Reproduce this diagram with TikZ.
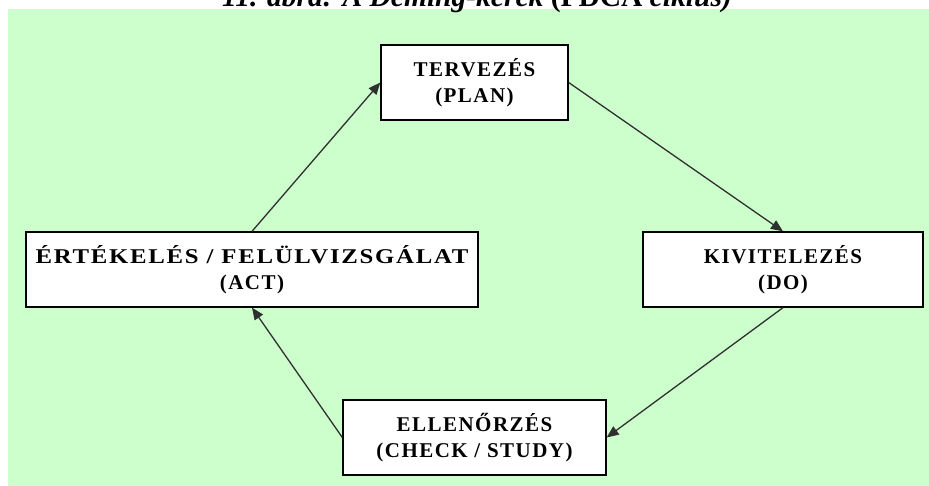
\documentclass[tikz,border=0pt]{standalone}
\usepackage{graphicx}
\usepackage{fontspec}
\setmainfont{Liberation Serif}
\newfontfamily\boxfont[LetterSpace=7]{Liberation Serif}
\usetikzlibrary{arrows.meta}
\definecolor{pdcagreen}{HTML}{CCFFCC}
\definecolor{flowgray}{HTML}{303030}
\begin{document}
\begin{tikzpicture}[x=1pt,y=-1pt,
  stage/.style={draw=black, line width=1.3pt, fill=white,
    minimum width=#1, minimum height=75pt, inner sep=0pt, align=center,
    font=\boxfont\bfseries\fontsize{21}{26}\selectfont},
  flow/.style={draw=flowgray, line width=1.3pt,
    -{Triangle[length=12pt,width=10pt]}}]
\useasboundingbox (0,0) rectangle (929,486);
% background panel
\fill[pdcagreen] (8,9) rectangle (929,486);
% caption, only its lower part lies inside the page
\begin{scope}
  \clip (0,0) rectangle (929,486);
  \node[anchor=base, inner sep=0pt,
        font=\bfseries\itshape\fontsize{29.5}{30}\selectfont] (title) at (477,7)
    {11. ábra: A Deming-kerék {\upshape(PDCA} ciklus)};
\end{scope}
% the four stages of the cycle
\node[stage=187pt] (plan)  at (474.5,82.5)  {TERVEZÉS\\(PLAN)};
\node[stage=280pt] (do)    at (783,269.5)   {KIVITELEZÉS\\(DO)};
\node[stage=263pt] (check) at (474.5,437.5) {ELLENŐRZÉS\\(CHECK / STUDY)};
\node[stage=452pt] (act)   at (252,269.5)
  {\scalebox{1.18}[1]{ÉRTÉKELÉS / FELÜLVIZSGÁLAT}\\(ACT)};
% cycle arrows
\draw[flow] (plan.east)  -- (do.north);
\draw[flow] (do.south)   -- (check.east);
\draw[flow] (check.west) -- (act.south);
\draw[flow] (act.north)  -- (plan.west);
\end{tikzpicture}
\end{document}
